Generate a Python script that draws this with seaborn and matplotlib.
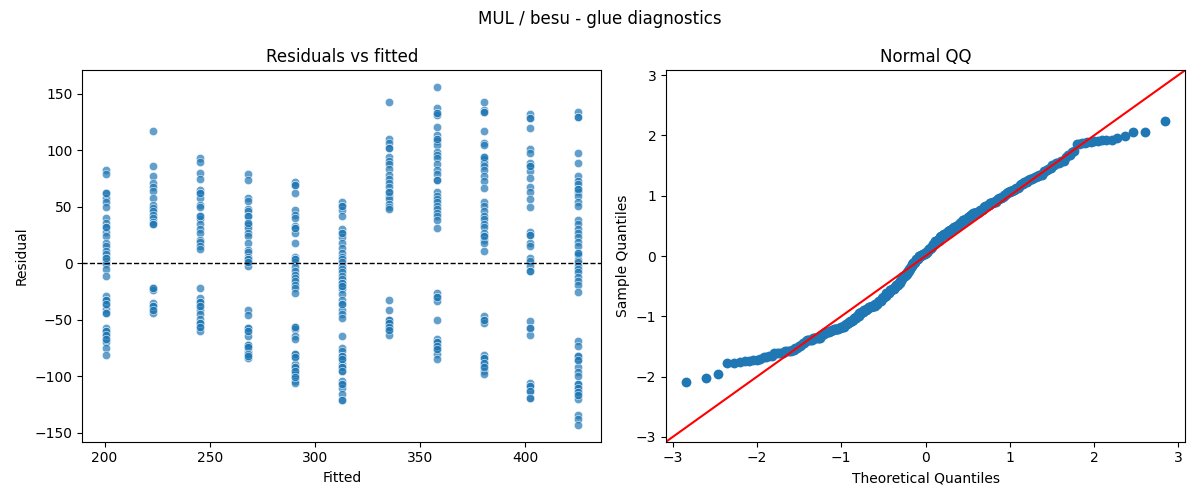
from statistics import NormalDist

import numpy as np
import pandas as pd
import matplotlib
matplotlib.use("Agg")
import matplotlib.pyplot as plt
import seaborn as sns

# fitted levels (one column of points each)
fitted_levels = [200.6, 223.0, 245.5, 268.0, 290.5, 313.0, 335.5, 358.0, 380.5, 402.5, 425.0]

# residuals, one list per fitted level
r01 = [83, 79, 62, 58, 54, 50, 40, 36, 32, 28, 24, 18, 15, 11, 8, 5, 2, -1, -5, -11,
       -29, -32, -36, -40, -44, -57, -60, -63, -67, -70, -75, -81]
r02 = [117, 86, 77, 71, 68, 64, 58, 52, 49, 46, 43, 40, 37, 35,
       -22, -24, -35, -38, -41, -44]
r03 = [93, 90, 80, 75, 65, 62, 58, 52, 50, 42, 39, 35, 30, 27, 21, 19, 15, 13,
       -22, -31, -34, -38, -41, -45, -49, -53, -56, -60]
r04 = [79, 74, 58, 55, 48, 46, 42, 36, 34, 31, 27, 24, 18, 12, 10, 6, 4, 1, -2,
       -41, -46, -57, -60, -64, -72, -74, -78, -80, -82, -84]
r05 = [72, 69, 62, 47, 43, 40, 33, 31, 27, 18, 6, 4, 1, -3, -7, -10, -13, -16, -19, -22, -26,
       -56, -58, -64, -67, -80, -83, -89, -92, -95, -98, -101, -104, -106]
r06 = [54, 51, 47, 42, 30, 27, 23, 18, 14, 9, 6, 4, 1, -2, -5, -8, -11, -14, -17, -20, -23,
       -27, -32, -36, -41, -45, -48, -64, -75, -78, -82, -85, -89, -92, -95, -104, -107,
       -110, -116, -121]
r07 = [143, 110, 107, 102, 94, 91, 88, 84, 78, 75, 71, 68, 63, 60, 57, 53, 50, 48,
       -32, -41, -50, -53, -56, -59, -63]
r08 = [156, 138, 133, 131, 121, 114, 110, 108, 105, 99, 96, 93, 88, 83, 79, 74, 63, 60, 57,
       54, 51, 48, 45, 42, 38, 31, -26, -30, -33, -50, -67, -70, -73, -76, -80, -85]
r09 = [143, 136, 134, 117, 107, 105, 94, 92, 89, 86, 83, 77, 73, 67, 54, 51, 46, 42, 39, 35,
       32, 27, 24, 21, 18, 11, -47, -50, -53, -81, -84, -88, -92, -95, -98]
r10 = [132, 129, 120, 101, 98, 89, 86, 82, 76, 68, 63, 57, 50, 28, 25, 18, 15, 5, 2, -2, -7,
       -51, -57, -63, -106, -109, -113, -119]
r11 = [134, 130, 98, 89, 77, 73, 70, 66, 63, 60, 54, 51, 38, 35, 30, 27, 23, 19, 15, 9, 7, 3,
       1, -2, -5, -8, -12, -16, -19, -25, -69, -73, -82, -86, -92, -96, -100, -107, -110,
       -114, -117, -120, -134, -138, -143]

# darker markers = overlapping points, extra copies per fitted level
d01 = [62, 32, 5, -32, -36, -44, -60, -63, -67]
d02 = [35, -22, -38, -41]
d03 = [62, 42, -34, -38, -53, -56]
d04 = [42, 36, 4, 1, -57, -60, -72, -74, -80, -82]
d05 = [69, 31, 4, -56, -80, -83, -92, -95, -101]
d06 = [51, 27, -17, -20, -36, -82, -85, -92, -95, -107, -121]
d07 = [102, 63, -50, -53, -56, -59]
d08 = [133, 110, 74, -30, -70, -73, -76]
d09 = [134, 94, 24, -50, -84, -88, -92]
d10 = [129, 86, 25, -7, -57, -109, -113, -119]
d11 = [130, 66, 9, -82, -86, -107, -110, -114, -117]

res_lists = [r01 + d01, r02 + d02, r03 + d03, r04 + d04, r05 + d05, r06 + d06,
             r07 + d07, r08 + d08, r09 + d09, r10 + d10, r11 + d11]

df = pd.DataFrame({
    "fitted": np.concatenate([[f] * len(r) for f, r in zip(fitted_levels, res_lists)]),
    "residual": np.concatenate(res_lists).astype(float),
})

# normal QQ of the standardized residuals (plotting positions i/(n+1))
resid_sorted = np.sort(df["residual"].to_numpy())
n = len(resid_sorted)
sample_q = (resid_sorted - resid_sorted.mean()) / resid_sorted.std()
nd = NormalDist()
theo_q = np.array([nd.inv_cdf(i / (n + 1)) for i in range(1, n + 1)])
qq = pd.DataFrame({"theoretical": theo_q, "sample": sample_q})

fig, (ax1, ax2) = plt.subplots(1, 2, figsize=(12, 5))

sns.scatterplot(data=df, x="fitted", y="residual", alpha=0.7, ax=ax1)
ax1.axhline(0, color="black", linestyle="--", linewidth=1)
ax1.set_title("Residuals vs fitted")
ax1.set_xlabel("Fitted")
ax1.set_ylabel("Residual")

sns.scatterplot(data=qq, x="theoretical", y="sample", color="C0", s=50,
                linewidth=0, ax=ax2)
lims = (-3.08, 3.08)
ax2.plot(lims, lims, color="red", linewidth=1.5)
ax2.set_xlim(lims)
ax2.set_ylim(lims)
ax2.set_title("Normal QQ")
ax2.set_xlabel("Theoretical Quantiles")
ax2.set_ylabel("Sample Quantiles")

fig.suptitle("MUL / besu - glue diagnostics")
fig.tight_layout()
fig.savefig("out.png", dpi=100)
